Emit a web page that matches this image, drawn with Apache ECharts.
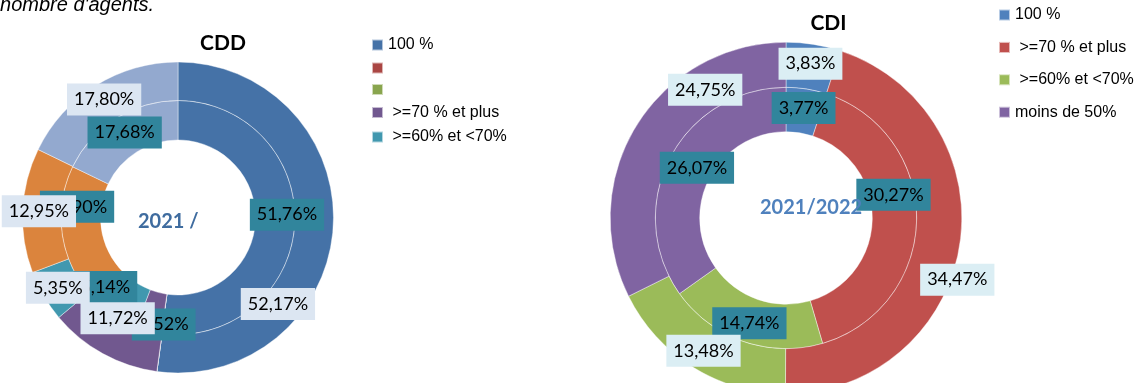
<!DOCTYPE html>
<html>
<head>
<meta charset="utf-8">
<script src="https://cdn.jsdelivr.net/npm/echarts@6/dist/echarts.min.js"></script>
<style>
  html, body { margin: 0; padding: 0; background: #fff; }
  #chart { width: 1141px; height: 383px; }
</style>
</head>
<body>
<div id="chart"></div>
<script>
// CDD: répartition par quotité (anneau extérieur / intérieur)
const cddCategories = ['100 %', 'catégorie 2', 'catégorie 3', ' >=70 % et plus', ' >=60% et <70%', 'catégorie 6', 'catégorie 7'];
const cddOuter = [52.17, 0, 0, 11.72, 5.35, 12.95, 17.80];
const cddInner = [51.76, 0, 0, 3.52, 5.14, 20.90, 17.68];
const cddColors = ['#4572A7', '#AA4643', '#89A54E', '#71588F', '#4198AF', '#DB843D', '#93A9CF'];
const cddLegendCount = 5;

// CDI
const cdiCategories = ['100 %', ' >=70 % et plus', ' >=60% et <70%', 'moins de 50%'];
const cdiOuter = [3.83, 34.47, 13.48, 24.75];
const cdiInner = [3.77, 30.27, 14.74, 26.07];
const cdiColors = ['#4F81BD', '#C0504D', '#9BBB59', '#8064A2'];

// Étiquettes déplacées à la main (décalage en px par rapport à la position par défaut)
const cddOuterShift = { 0: [-39, 77], 3: [7, -21] };
const cddInnerShift = { 0: [9, -10], 3: [11, 10], 4: [-22, -17], 5: [-3, -32] };
const cdiOuterShift = { 1: [17, 37], 3: [52, -46] };
const cdiInnerShift = { 1: [-4, -25], 3: [10, 1] };

const labelFont = 'Lato, "Open Sans", sans-serif';
const fmt = v => v.toFixed(2).replace('.', ',') + '%';

// Anneau coloré (sans étiquettes)
function ringSectors(center, radius, names, values, colors) {
  return {
    type: 'pie',
    center: center,
    radius: radius,
    startAngle: 90,
    clockwise: true,
    z: 1,
    silent: true,
    itemStyle: { borderColor: 'rgba(255,255,255,0.6)', borderWidth: 0.7 },
    label: { show: false },
    labelLine: { show: false },
    emphasis: { disabled: true },
    data: names.map((n, i) => ({ name: n, value: values[i], itemStyle: { color: colors[i] } }))
  };
}

// Même anneau, transparent, qui ne porte que les étiquettes (au-dessus des deux anneaux)
function ringLabels(center, radius, names, values, labelBg, shifts, z) {
  return {
    type: 'pie',
    center: center,
    radius: radius,
    startAngle: 90,
    clockwise: true,
    avoidLabelOverlap: false,
    z: z,
    silent: true,
    itemStyle: { color: 'rgba(0,0,0,0)', borderWidth: 0 },
    label: {
      show: true,
      position: 'inside',
      formatter: p => fmt(p.value),
      fontFamily: labelFont,
      fontSize: 18,
      lineHeight: 20,
      color: '#000',
      backgroundColor: labelBg,
      padding: [6, 7],
      overflow: 'none'
    },
    labelLayout: { hideOverlap: false },
    labelLine: { show: false },
    emphasis: { disabled: true },
    data: names.map((n, i) => {
      const item = { name: n, value: values[i] };
      if (values[i] === 0) item.label = { show: false };
      else if (shifts[i]) item.label = { offset: shifts[i] };
      return item;
    })
  };
}

function legendData(names, colors, count) {
  return names.slice(0, count).map((n, i) => ({ name: n, itemStyle: { color: colors[i] } }));
}

const legendText = { fontFamily: '"Liberation Sans", Arial, sans-serif', fontSize: 16, color: '#000', lineHeight: 16 };

const cddCenter = [178, 217.5];
const cddInnerR = [77.5, 117];
const cddOuterR = [117, 155.5];
const cdiCenter = [786, 218];
const cdiInnerR = [86.3, 130.7];
const cdiOuterR = [130.7, 175.8];

const chart = echarts.init(document.getElementById('chart'), null, { renderer: 'canvas' });
chart.setOption({
  animation: false,
  legend: [
    {
      orient: 'vertical', left: 371, top: 37, padding: 0,
      itemWidth: 11, itemHeight: 11, itemGap: 8.5, icon: 'rect',
      selectedMode: false,
      textStyle: legendText,
      formatter: n => (n.indexOf('catégorie') === 0 ? '' : n),
      data: legendData(cddCategories, cddColors, cddLegendCount)
    },
    {
      orient: 'vertical', left: 998, top: 7, padding: 0,
      itemWidth: 11, itemHeight: 11, itemGap: 16.4, icon: 'rect',
      selectedMode: false,
      textStyle: legendText,
      data: legendData(cdiCategories, cdiColors, cdiCategories.length)
    }
  ],
  graphic: [
    { type: 'text', x: 154, y: 5.5, z: 100, style: { text: "nombre d'agents.", font: 'italic 20px "Liberation Sans", Arial, sans-serif', fill: '#000', align: 'right', verticalAlign: 'middle' } },
    { type: 'text', x: 223, y: 43, z: 100, style: { text: 'CDD', font: 'bold 21px ' + labelFont, fill: '#000', align: 'center', verticalAlign: 'middle' } },
    { type: 'text', x: 828.5, y: 23.5, z: 100, style: { text: 'CDI', font: 'bold 21px ' + labelFont, fill: '#000', align: 'center', verticalAlign: 'middle' } },
    { type: 'text', x: 138, y: 221.5, z: 100, style: { text: '2021 /', font: 'bold 20px ' + labelFont, fill: '#3F6C9F', align: 'left', verticalAlign: 'middle' } },
    { type: 'text', x: 760, y: 207.5, z: 100, style: { text: '2021/2022', font: 'bold 20px ' + labelFont, fill: '#4F81BD', align: 'left', verticalAlign: 'middle' } }
  ],
  series: [
    ringSectors(cddCenter, cddInnerR, cddCategories, cddInner, cddColors),
    ringSectors(cddCenter, cddOuterR, cddCategories, cddOuter, cddColors),
    ringSectors(cdiCenter, cdiInnerR, cdiCategories, cdiInner, cdiColors),
    ringSectors(cdiCenter, cdiOuterR, cdiCategories, cdiOuter, cdiColors),
    ringLabels(cddCenter, cddInnerR, cddCategories, cddInner, '#31859C', cddInnerShift, 2),
    ringLabels(cdiCenter, cdiInnerR, cdiCategories, cdiInner, '#31859C', cdiInnerShift, 2),
    ringLabels(cddCenter, cddOuterR, cddCategories, cddOuter, '#DCE6F2', cddOuterShift, 3),
    ringLabels(cdiCenter, cdiOuterR, cdiCategories, cdiOuter, '#DBEEF4', cdiOuterShift, 3)
  ]
});
</script>
</body>
</html>
